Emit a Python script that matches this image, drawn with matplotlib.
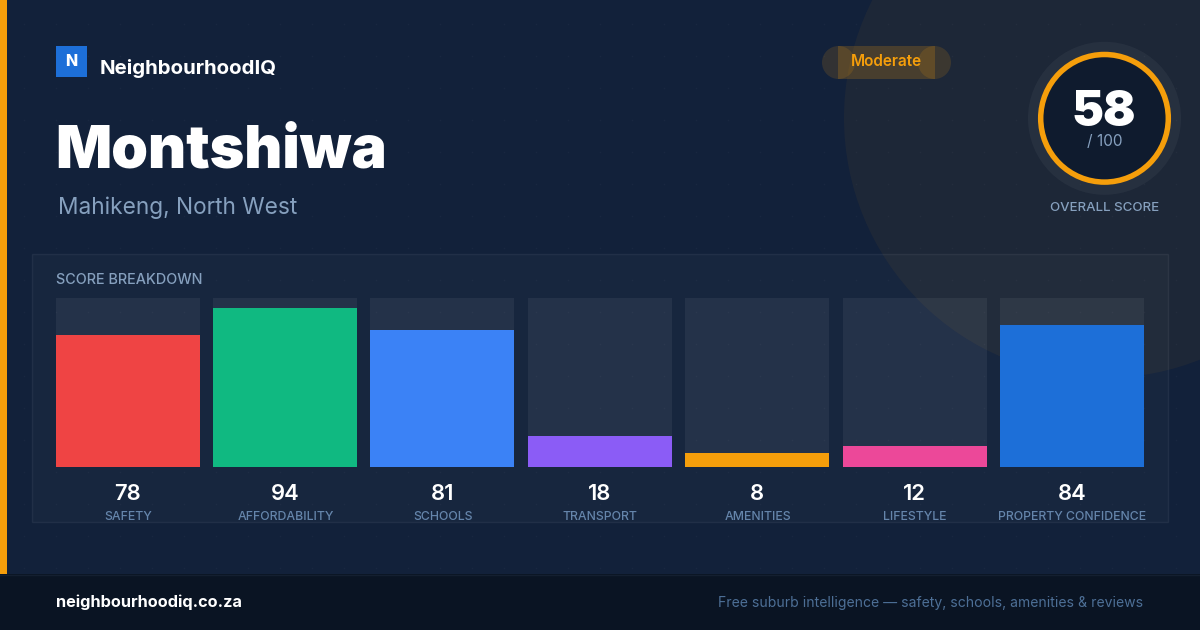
import matplotlib
matplotlib.use("Agg")
import matplotlib.pyplot as plt
from matplotlib.patches import Rectangle, Circle
import numpy as np

categories = ["SAFETY", "AFFORDABILITY", "SCHOOLS", "TRANSPORT", "AMENITIES", "LIFESTYLE", "PROPERTY CONFIDENCE"]
scores = [78, 94, 81, 18, 8, 12, 84]
bar_colors = ["#ef4444", "#10b981", "#3b82f6", "#8b5cf6", "#f59e0b", "#ec4899", "#1d6fd8"]
overall = 58

W, H = 1200, 630
plt.rcParams['font.family'] = ['Inter', 'DejaVu Sans']
fig = plt.figure(figsize=(W/100, H/100), dpi=100, facecolor="#12213a")
PX = 0.72
MUTED = "#86a0be"

bg = fig.add_axes([0, 0, 1, 1], zorder=0)
bg.set_xlim(0, W); bg.set_ylim(H, 0); bg.axis("off")
bg.add_patch(Circle((1104, 118), 260, fc="#f59e0b", alpha=0.05, lw=0))
dx, dy = np.meshgrid(np.arange(24, W, 32), np.arange(24, 574, 32))
bg.scatter(dx.ravel(), dy.ravel(), s=1.2, c="#ffffff", alpha=0.03, lw=0)
bg.add_patch(Rectangle((32, 254), 1135.6, 268, fc=(1, 1, 1, 0.025), ec=(1, 1, 1, 0.06), lw=1))
bg.add_patch(Rectangle((0, 0), 7, 574, fc="#f59e0b", lw=0))
bg.add_patch(Rectangle((0, 574), W, 56, fc="#0a1423", lw=0))
bg.plot([0, W], [574.5, 574.5], color="#141f30", lw=1)

# logo
bg.add_patch(Rectangle((56, 46), 31, 31, fc="#1d6fd8", lw=0))
bg.text(71, 61, "N", color="white", fontsize=16*PX, fontweight="heavy", ha="center", va="center")
bg.text(100, 68.5, "NeighbourhoodIQ", color="white", fontsize=20.4*PX, fontweight="bold", ha="left", va="center")
bg.text(55.5, 152, "Montshiwa", color="white", fontsize=58.95*PX, fontweight="black", ha="left", va="center")
bg.text(58, 208, "Mahikeng, North West", color=MUTED, fontsize=22.7*PX, ha="left", va="center")

# pill
for cx in (838.5, 934.5):
    bg.add_patch(Circle((cx, 62.5), 16.5, fc="#f59e0b", alpha=0.14, lw=0))
bg.add_patch(Rectangle((838, 46), 97, 33, fc="#f59e0b", alpha=0.2, lw=0))
bg.text(886.5, 61.5, "Moderate", color="#f59e0b", fontsize=15.3*PX, fontweight="semibold", ha="center", va="center")

# gauge
bg.add_patch(Circle((1104.5, 118.3), 76.5, fc="#ffffff", alpha=0.045, lw=0))
bg.add_patch(Circle((1104.5, 118.3), 63.8, fc="#0f1b2e", ec="#f59e0b", lw=5.5*PX))
bg.text(1104, 113, str(overall), color="white", fontsize=48*PX, fontweight="black", ha="center", va="center")
bg.text(1104.5, 141.5, "/ 100", color=MUTED, fontsize=15.5*PX, ha="center", va="center")
bg.text(1104.5, 208, "OVERALL SCORE", color=MUTED, fontsize=13.3*PX, fontweight="medium", ha="center", va="center")

bg.text(56, 280.5, "SCORE BREAKDOWN", color=MUTED, fontsize=14.4*PX, fontweight="medium", ha="left", va="center")

# footer
bg.text(56, 602.5, "neighbourhoodiq.co.za", color="white", fontsize=16.3*PX, fontweight="bold", ha="left", va="center")
bg.text(1143.5, 603, "Free suburb intelligence — safety, schools, amenities & reviews", color="#4d6f96",
        fontsize=14.03*PX, ha="right", va="center")

# bars, on their own axes scaled 0-100
left, right, top, bottom = 55.6, 1144, 298, 466.6
ax = fig.add_axes([left/W, 1-bottom/H, (right-left)/W, (bottom-top)/H], zorder=1)
ax.patch.set_alpha(0)
pitch = (right-left-144)/6
bw = 144/pitch
x = np.arange(len(scores))
ax.bar(x, [100]*len(x), width=bw, color="#ffffff", alpha=0.06, lw=0)
ax.bar(x, scores, width=bw, color=bar_colors, lw=0)
ax.set_xlim(-bw/2, len(x)-1+bw/2)
ax.set_ylim(0, 100)
ax.axis("off")

top_ax = fig.add_axes([0, 0, 1, 1], zorder=2)
top_ax.set_xlim(0, W); top_ax.set_ylim(H, 0); top_ax.axis("off")
for i, (c, s) in enumerate(zip(categories, scores)):
    cx = left + 72 + i*pitch
    top_ax.text(cx, 493.5, str(s), color="white", fontsize=22*PX, fontweight="semibold", ha="center", va="center")
    top_ax.text(cx+0.5, 516.5, c, color="#6585ab", fontsize=12.3*PX, fontweight="medium", ha="center", va="center")

fig.savefig("out.png", dpi=100, facecolor=fig.get_facecolor())
